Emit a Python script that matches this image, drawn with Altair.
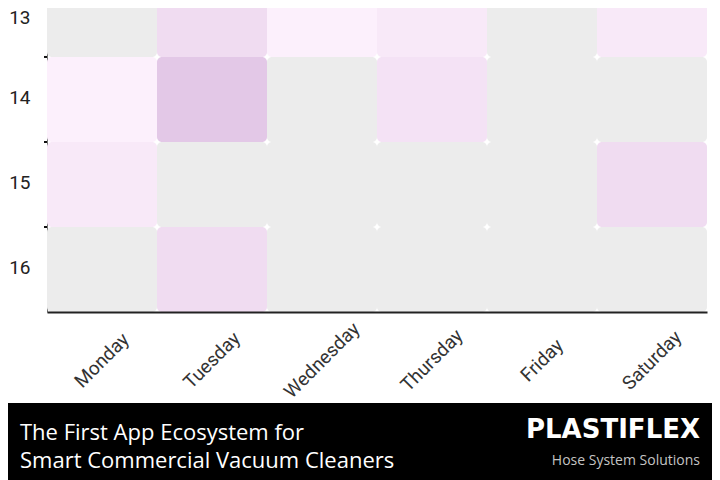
import altair as alt
import pandas as pd

days = ["Monday", "Tuesday", "Wednesday", "Thursday", "Friday", "Saturday"]
hours = [13, 14, 15, 16]
values = [
    [0, 4, 1, 2, 0, 2],   # 13
    [1, 7, 0, 3, 0, 0],   # 14
    [2, 0, 0, 0, 0, 4],   # 15
    [0, 4, 0, 0, 0, 0],   # 16
]
banner_left = ["The First App Ecosystem for", "Smart Commercial Vacuum Cleaners"]
brand = "PLASTIFLEX"
tagline = "Hose System Solutions"
row_bounds = [13.5, 14.5, 15.5]

rows = []
for h, vals in zip(hours, values):
    for d, v in zip(days, vals):
        rows.append({"hour": h, "day": d, "value": v})
df = pd.DataFrame(rows)

W, H = 660, 304

xenc = alt.X("day:N", sort=days, title=None,
             scale=alt.Scale(paddingInner=0, paddingOuter=0),
             axis=alt.Axis(labelAngle=-45, labelAlign="center", labelBaseline="middle",
                           labelPadding=48, labelFontSize=19, labelColor="#333333",
                           labelFont="Roboto", ticks=False, domainColor="#222222",
                           domainWidth=2, grid=False))
yscale = alt.Scale(domain=[12.924, 16.5], reverse=True, nice=False, zero=False)

heat = alt.Chart(df).transform_calculate(
    lo="datum.hour - 0.5", hi="datum.hour + 0.5"
).mark_rect(cornerRadius=5, clip=True).encode(
    x=xenc,
    y=alt.Y("lo:Q", scale=yscale, title=None,
            axis=alt.Axis(values=hours, format="d", ticks=False, grid=False,
                          labelFontSize=19, labelColor="#222222", labelFont="Roboto",
                          labelPadding=17,
                          labelOffset={"condition": {"test": "datum.value == 13", "value": 3},
                                       "value": -2},
                          domainColor="#777777", domainWidth=1)),
    y2="hi:Q",
    color=alt.Color("value:Q", legend=None,
                    scale=alt.Scale(domain=[0, 1, 7],
                                    range=["#ececec", "#fcf0fc", "#e3c8e7"])),
)

ticks = alt.Chart(pd.DataFrame({"b": row_bounds})).mark_rule(
    color="#111111", strokeWidth=2).encode(
    y=alt.Y("b:Q", scale=yscale), x=alt.value(-3), x2=alt.value(0))

banner = alt.Chart(pd.DataFrame({"t": [brand]})).mark_rect(color="#000000").encode(
    x=alt.value(-39), x2=alt.value(665), y=alt.value(395), y2=alt.value(472))

line1 = alt.Chart(pd.DataFrame({"t": [banner_left[0]]})).mark_text(
    align="left", baseline="alphabetic", color="white", font="Open Sans", fontSize=22
).encode(x=alt.value(-27), y=alt.value(432), text="t:N")
line2 = alt.Chart(pd.DataFrame({"t": [banner_left[1]]})).mark_text(
    align="left", baseline="alphabetic", color="white", font="Open Sans", fontSize=22
).encode(x=alt.value(-27), y=alt.value(460), text="t:N")
brand_t = alt.Chart(pd.DataFrame({"t": [brand]})).mark_text(
    align="right", baseline="alphabetic", color="white", font="DejaVu Sans",
    fontWeight="bold", fontSize=26
).encode(x=alt.value(653), y=alt.value(430), text="t:N")
tag_t = alt.Chart(pd.DataFrame({"t": [tagline]})).mark_text(
    align="right", baseline="alphabetic", color="#c4c4c4", font="Open Sans", fontSize=14
).encode(x=alt.value(653), y=alt.value(457), text="t:N")

chart = alt.layer(heat, ticks, banner, line1, line2, brand_t, tag_t).properties(
    width=W, height=H,
    autosize=alt.AutoSizeParams(type="none"),
    padding={"left": 39, "top": 0, "right": 5, "bottom": 168},
    background="white",
).configure_view(stroke=None)

chart.save("out.html", embed_options={"renderer": "svg", "actions": False})
